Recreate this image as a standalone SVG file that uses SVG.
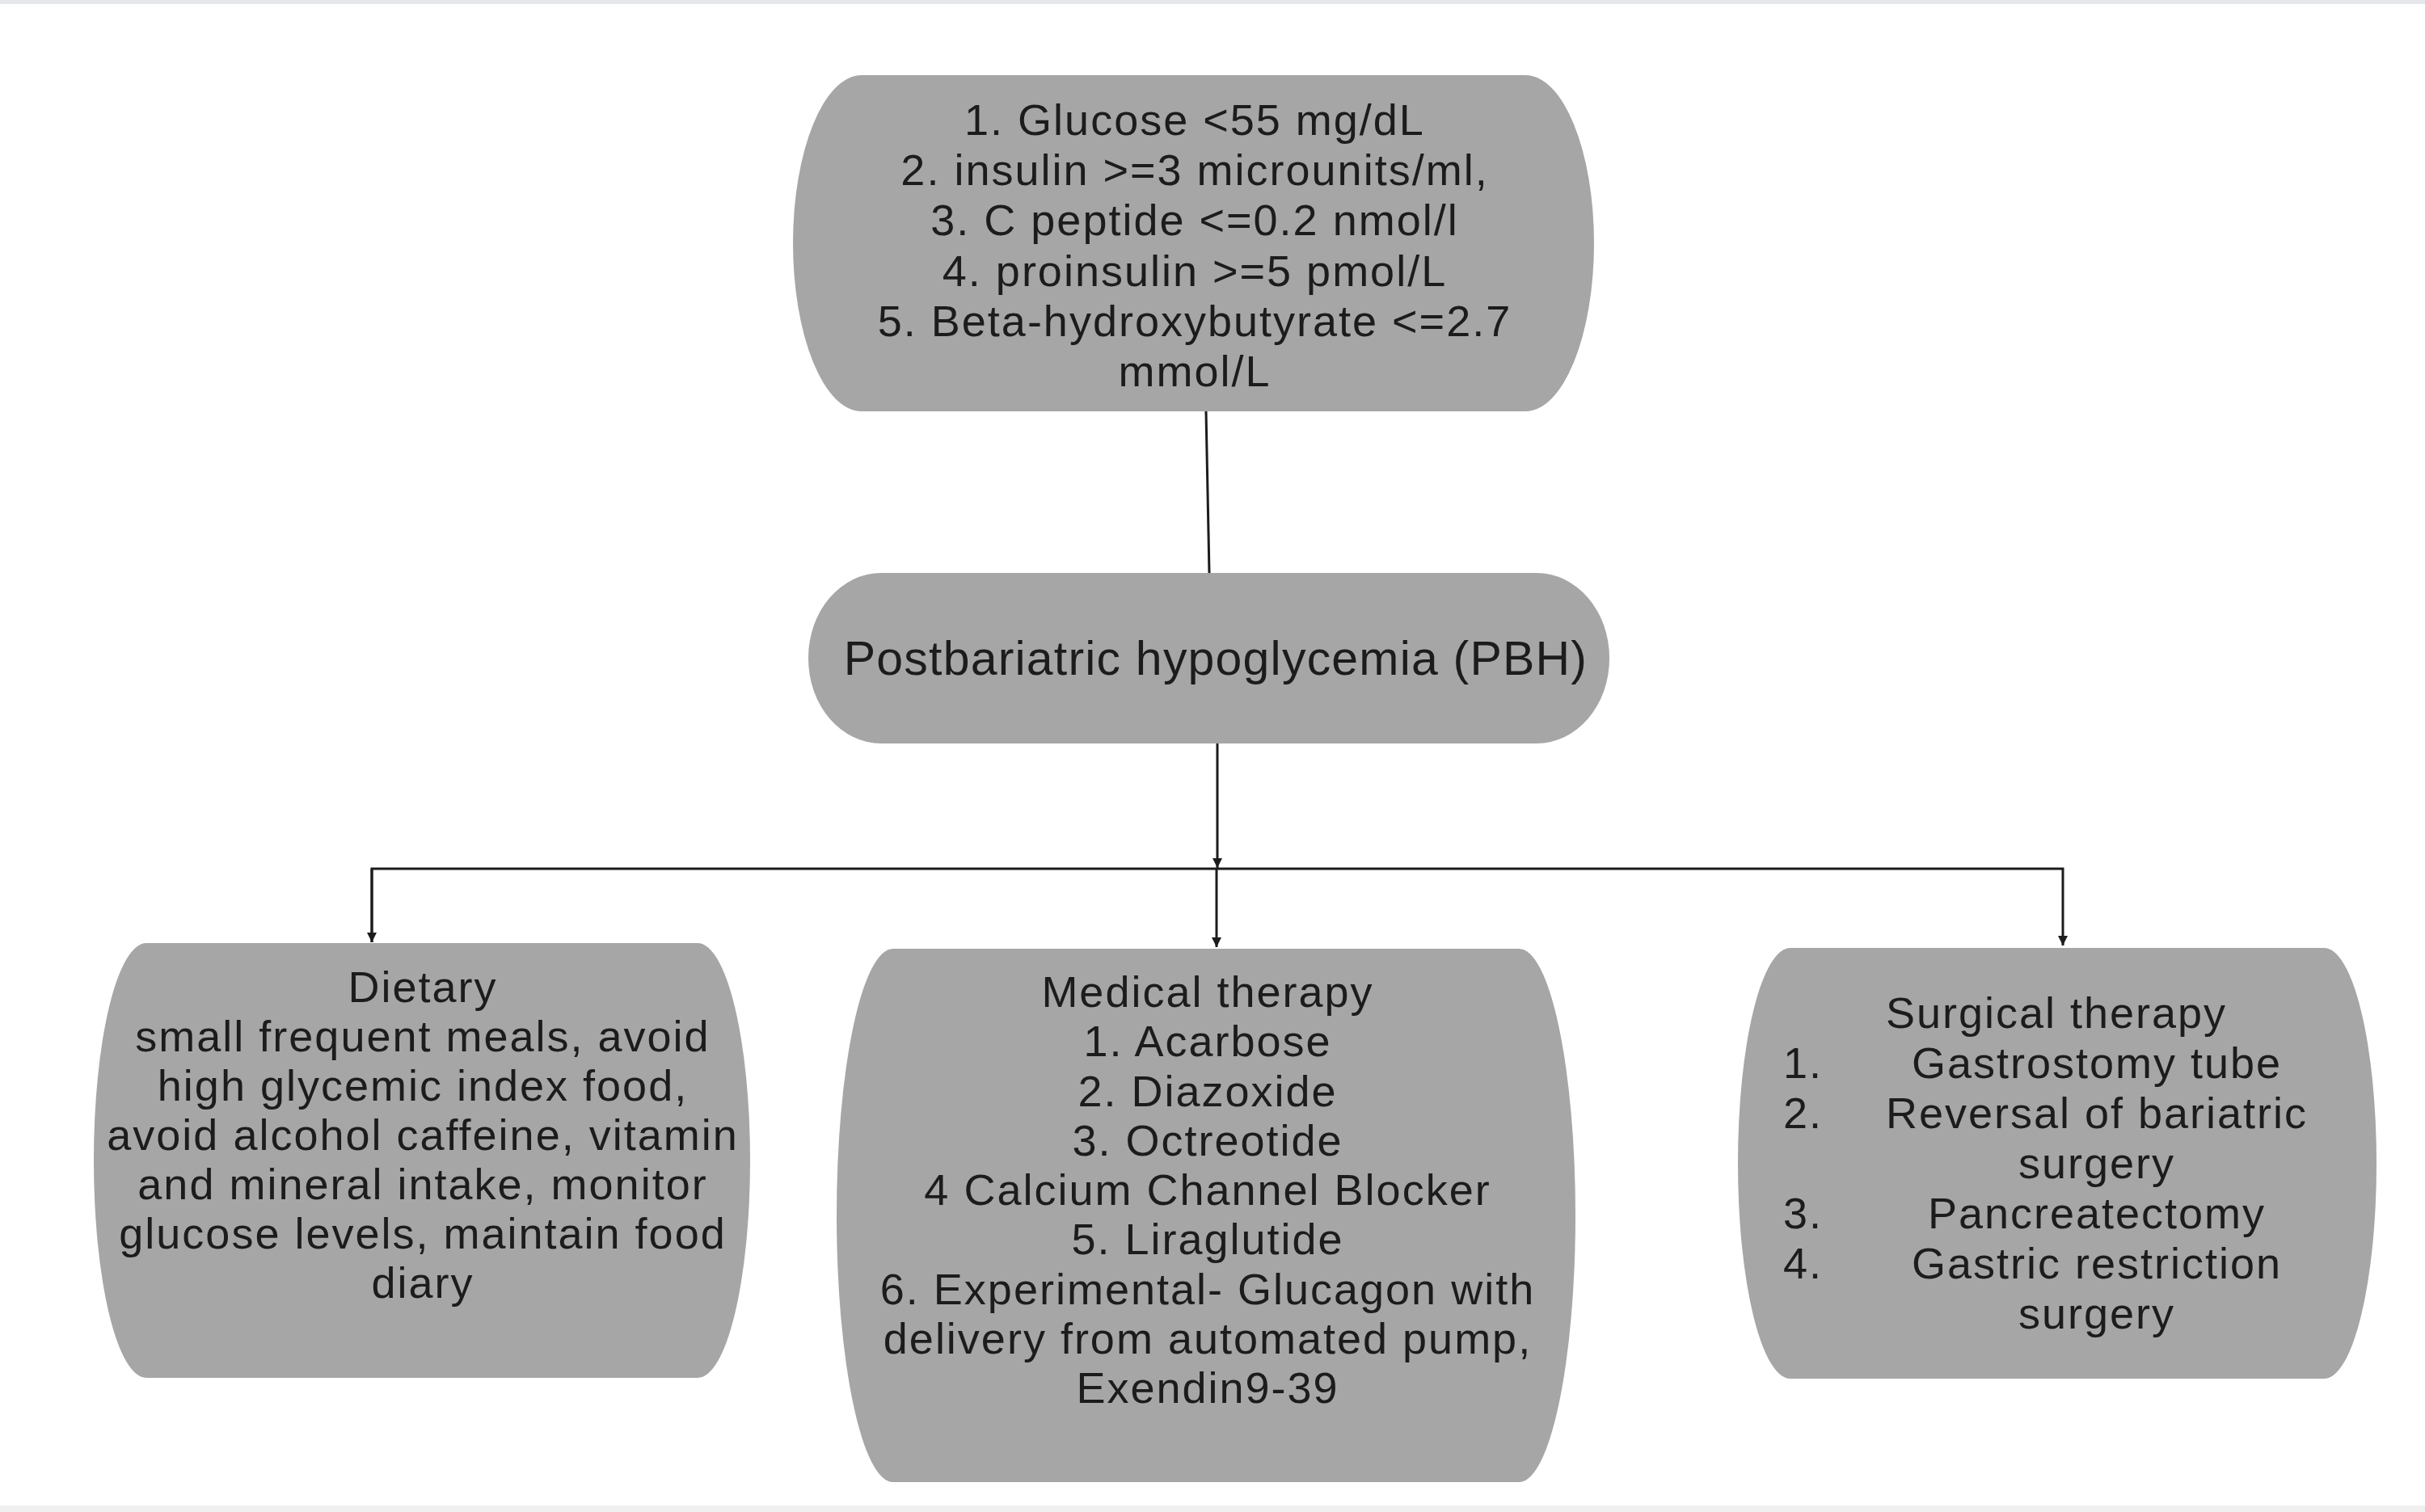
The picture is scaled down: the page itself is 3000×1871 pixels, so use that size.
<svg xmlns="http://www.w3.org/2000/svg" width="3000" height="1871" viewBox="0 0 3000 1871">
<defs>
<style>
.box{fill:#a6a6a6;}
.t{font-family:"Liberation Sans",Arial,sans-serif;font-size:54px;letter-spacing:2px;fill:#1c1c1c;text-anchor:middle;}
.n{text-anchor:end;}
.big{font-size:59px;letter-spacing:1.2px;}
.c{fill:none;stroke:#1c1c1c;stroke-width:3;}
</style>
<marker id="ah" viewBox="0 0 10 10" refX="10" refY="5" markerWidth="4" markerHeight="4" orient="auto" markerUnits="strokeWidth">
<path d="M0,0 L10,5 L0,10 z" fill="#1c1c1c"/>
</marker>
</defs>
<rect x="0" y="0" width="3000" height="1871" fill="#ffffff"/>
<rect x="0" y="0" width="3000" height="5" fill="#e6e7ea"/>
<rect x="0" y="1863" width="3000" height="8" fill="#f0f0f0"/>

<g id="connectors">
<line class="c" x1="1492" y1="509" x2="1496" y2="709"/>
<line class="c" x1="1506" y1="920" x2="1506" y2="1074" marker-end="url(#ah)"/>
<polyline class="c" points="460,1166 460,1075 2552,1075 2552,1170" marker-end="url(#ah)"/>
<line class="c" x1="460" y1="1075" x2="460" y2="1166" marker-end="url(#ah)"/>
<line class="c" x1="1505" y1="1075" x2="1505" y2="1172" marker-end="url(#ah)"/>
</g>

<g id="criteria">
<rect class="box" x="981" y="93" width="991" height="416" rx="85" ry="208"/>
<text class="t" x="1478" y="167">1. Glucose &lt;55 mg/dL</text>
<text class="t" x="1478" y="229">2. insulin &gt;=3 microunits/ml,</text>
<text class="t" x="1478" y="291">3. C peptide &lt;=0.2 nmol/l</text>
<text class="t" x="1478" y="354">4. proinsulin &gt;=5 pmol/L</text>
<text class="t" x="1478" y="416">5. Beta-hydroxybutyrate &lt;=2.7</text>
<text class="t" x="1478" y="478">mmol/L</text>
</g>

<g id="pbh">
<rect class="box" x="1000" y="709" width="991" height="211" rx="90" ry="105"/>
<text class="t big" x="1504" y="835">Postbariatric hypoglycemia (PBH)</text>
</g>

<g id="dietary">
<rect class="box" x="116" y="1167" width="812" height="538" rx="65" ry="269"/>
<text class="t" x="523" y="1240">Dietary</text>
<text class="t" x="523" y="1301">small frequent meals, avoid</text>
<text class="t" x="523" y="1362">high glycemic index food,</text>
<text class="t" x="523" y="1423">avoid alcohol caffeine, vitamin</text>
<text class="t" x="523" y="1484">and mineral intake, monitor</text>
<text class="t" x="523" y="1545">glucose levels, maintain food</text>
<text class="t" x="523" y="1606">diary</text>
</g>

<g id="medical">
<rect class="box" x="1035" y="1174" width="914" height="660" rx="70" ry="330"/>
<text class="t" x="1494" y="1246">Medical therapy</text>
<text class="t" x="1494" y="1307">1. Acarbose</text>
<text class="t" x="1494" y="1369">2. Diazoxide</text>
<text class="t" x="1494" y="1430">3. Octreotide</text>
<text class="t" x="1494" y="1491">4 Calcium Channel Blocker</text>
<text class="t" x="1494" y="1552">5. Liraglutide</text>
<text class="t" x="1494" y="1614">6. Experimental- Glucagon with</text>
<text class="t" x="1494" y="1675">delivery from automated pump,</text>
<text class="t" x="1494" y="1736">Exendin9-39</text>
</g>

<g id="surgical">
<rect class="box" x="2150" y="1173" width="790" height="533" rx="65" ry="266"/>
<text class="t" x="2544" y="1272">Surgical therapy</text>
<text class="t n" x="2255" y="1334">1.</text>
<text class="t" x="2594" y="1334">Gastrostomy tube</text>
<text class="t n" x="2255" y="1396">2.</text>
<text class="t" x="2594" y="1396">Reversal of bariatric</text>
<text class="t" x="2594" y="1458">surgery</text>
<text class="t n" x="2255" y="1520">3.</text>
<text class="t" x="2594" y="1520">Pancreatectomy</text>
<text class="t n" x="2255" y="1582">4.</text>
<text class="t" x="2594" y="1582">Gastric restriction</text>
<text class="t" x="2594" y="1644">surgery</text>
</g>
</svg>
